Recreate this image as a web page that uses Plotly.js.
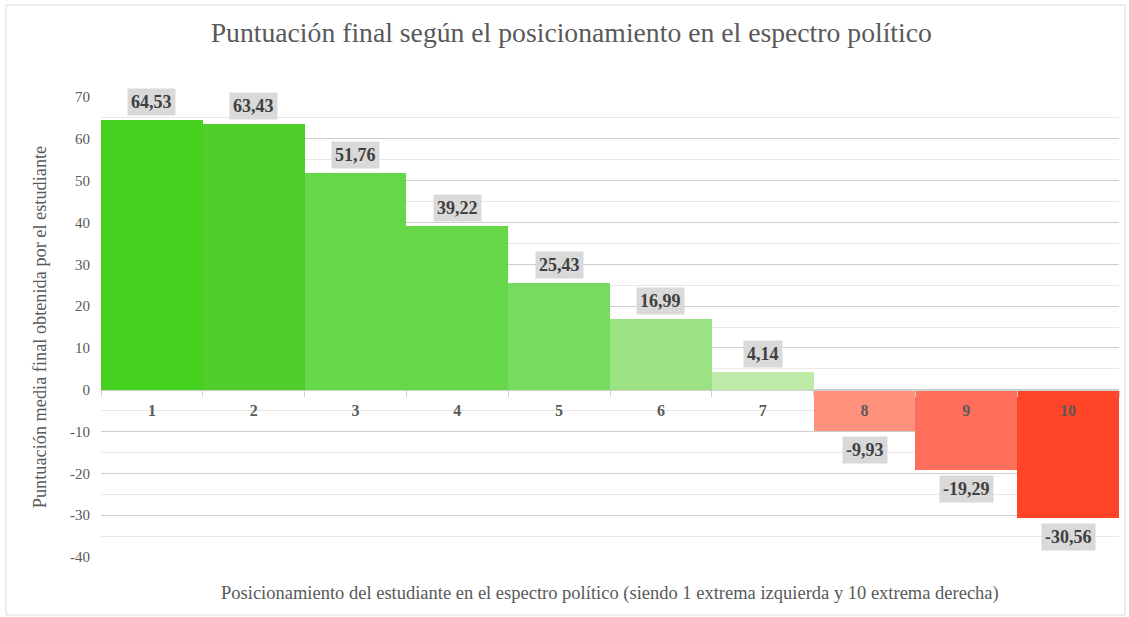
<!DOCTYPE html>
<html>
<head>
<meta charset="utf-8">
<script src="https://cdn.plot.ly/plotly-3.0.1.min.js"></script>
<style>html,body{margin:0;padding:0;background:#fff;}#chart{width:1129px;height:617px;}</style>
</head>
<body>
<div id="chart"></div>
<script>
const categories = ["1","2","3","4","5","6","7","8","9","10"];
const values = [64.53, 63.43, 51.76, 39.22, 25.43, 16.99, 4.14, -9.93, -19.29, -30.56];
const labels = ["64,53","63,43","51,76","39,22","25,43","16,99","4,14","-9,93","-19,29","-30,56"];
const colors = ["#3ccd13","#47cc1f","#5fd540","#5fd540","#70d957","#96e07e","#b9e9a1","#ff8b76","#ff6651","#ff3a1c"];
const yTickVals = [-40, -30, -20, -10, 0, 10, 20, 30, 40, 50, 60, 70];
const yTickText = ["-40", "-30", "-20", "-10", "0", "10", "20", "30", "40", "50", "60", "70"];

const yMin = -40, yMax = 70;
const fontFam = "Liberation Serif";

const trace = {
  type: "bar",
  x: categories,
  y: values,
  marker: {color: colors, opacity: 0.95, line: {width: 0}},
  hoverinfo: "x+y",
  showlegend: false
};

const annotations = values.map((v, i) => ({
  x: i, y: v, xref: "x", yref: "y",
  text: "<b>" + labels[i] + "</b>",
  showarrow: false,
  yanchor: v >= 0 ? "bottom" : "top",
  yshift: v >= 0 ? 4 : -5,
  bgcolor: "#d9d9d9",
  borderpad: 3,
  font: {family: fontFam, size: 18, color: "#404040"}
}));

const layout = {
  width: 1129, height: 617,
  paper_bgcolor: "#fff", plot_bgcolor: "#fff",
  margin: {l: 101, r: 10, t: 97, b: 60},
  bargap: 0,
  font: {family: fontFam, color: "#595959"},
  title: {text: "Puntuación final según el posicionamiento en el espectro político",
          x: 0.506, xref: "container", y: 0.963, yref: "container", yanchor: "top",
          font: {family: fontFam, size: 27.7, color: "#595959"}},
  xaxis: {
    type: "category",
    range: [-0.5, categories.length - 0.5],
    anchor: "free",
    position: (0 - yMin) / (yMax - yMin),
    tickson: "boundaries",
    ticks: "outside", ticklen: 6, tickcolor: "#d0d0d0",
    showline: true, linecolor: "#d0d0d0", linewidth: 1,
    showgrid: false, zeroline: false,
    ticklabelstandoff: 6,
    tickfont: {family: fontFam, size: 16, color: "#595959", weight: "bold"},
    layer: "above traces"
  },
  yaxis: {
    range: [yMin, yMax],
    tickmode: "array", tickvals: yTickVals, ticktext: yTickText,
    showgrid: true, gridcolor: "#cdcdcd", gridwidth: 1,
    minor: {dtick: 5, tick0: 0, showgrid: true, gridcolor: "#e8e8e8", gridwidth: 1},
    zeroline: false,
    ticks: "", ticklen: 0,
    ticklabelstandoff: 10,
    tickfont: {family: fontFam, size: 15, color: "#595959"},
    title: {text: "Puntuación media final obtenida por el estudiante",
            font: {family: fontFam, size: 18.3, color: "#595959"}, standoff: 18}
  },
  annotations: annotations.concat([{
    text: "Posicionamiento del estudiante en el espectro político (siendo 1 extrema izquierda y 10 extrema derecha)",
    xref: "paper", yref: "paper", x: 0.5, y: -0.052, yanchor: "top",
    showarrow: false,
    font: {family: fontFam, size: 18.5, color: "#595959"}
  }]),
  shapes: [{
    type: "rect", xref: "paper", yref: "paper",
    x0: -95/1018, x1: 1 + 6/1018,
    y0: -(617-2-557)/460, y1: 1 + (97-5)/460,
    line: {color: "#d9d9d9", width: 1}, fillcolor: "rgba(0,0,0,0)", layer: "below"
  }]
};

Plotly.newPlot("chart", [trace], layout, {displayModeBar: false, staticPlot: true});
</script>
</body>
</html>
